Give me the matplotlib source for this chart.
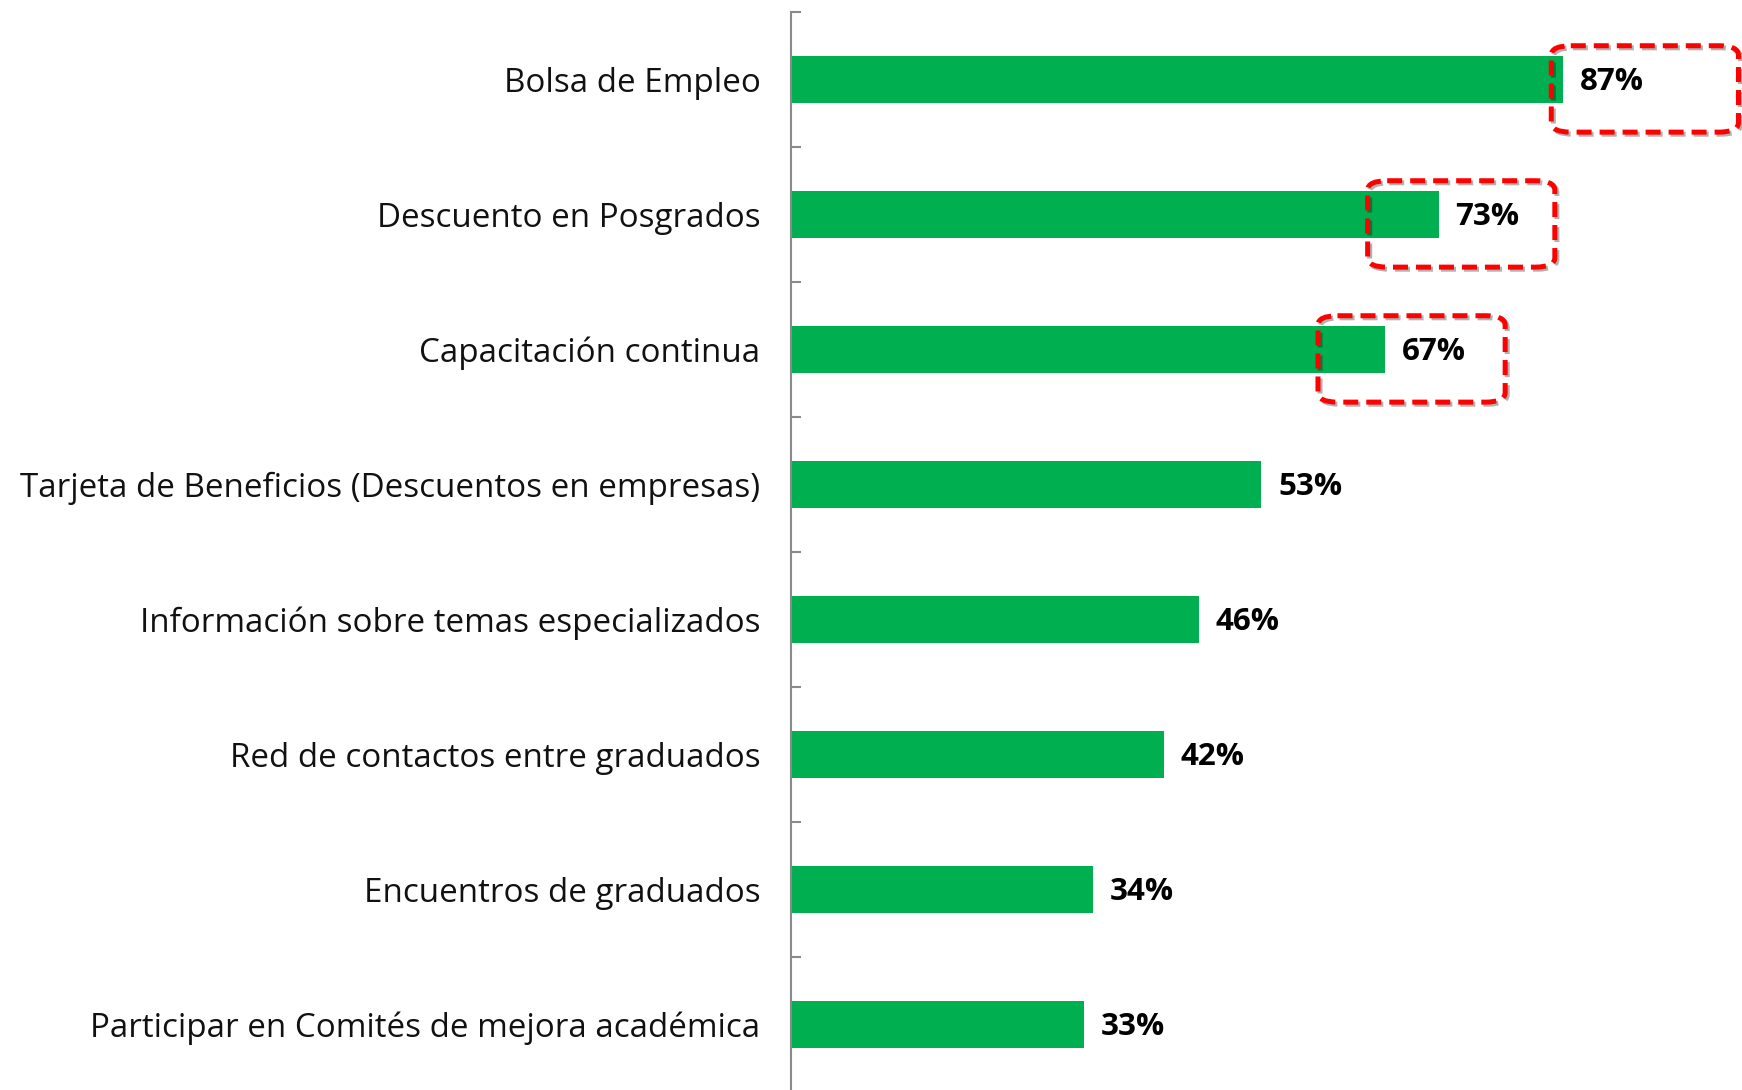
import matplotlib
matplotlib.use("Agg")
import matplotlib.pyplot as plt
from matplotlib.patches import FancyBboxPatch
import matplotlib.patheffects as pe
import numpy as np

categories = [
    "Bolsa de Empleo",
    "Descuento en Posgrados",
    "Capacitación continua",
    "Tarjeta de Beneficios (Descuentos en empresas)",
    "Información sobre temas especializados",
    "Red de contactos entre graduados",
    "Encuentros de graduados",
    "Participar en Comités de mejora académica",
]
values = [0.87, 0.73, 0.67, 0.53, 0.46, 0.42, 0.34, 0.33]
value_labels = ["87%", "73%", "67%", "53%", "46%", "42%", "34%", "33%"]

# highlighted categories (dashed red boxes) and how far each box starts left of the bar end
highlight_idx = [0, 1, 2]
box_left_offset = [0.013, 0.080, 0.076]
box_width = 0.211
box_height = 0.64
box_dy = 0.07

GREEN = "#00B050"
AXIS_GRAY = "#8A8A8A"

plt.rcParams['font.family'] = ['Open Sans', 'DejaVu Sans']

fig = plt.figure(figsize=(17.42, 10.90), dpi=100)
ax = fig.add_axes([0.4541, -0.0018, 0.5459, 0.9908])

y = np.arange(len(categories))
ax.barh(y, values, height=0.35, color=GREEN, edgecolor="none", zorder=2)

ax.set_ylim(len(categories) - 0.5, -0.5)
ax.set_xlim(0, 1.072)

for s in ["top", "right", "bottom"]:
    ax.spines[s].set_visible(False)
ax.spines["left"].set_color(AXIS_GRAY)
ax.spines["left"].set_linewidth(1.5)
ax.xaxis.set_visible(False)

ax.set_yticks(y)
ax.set_yticklabels(categories, fontsize=23.9, color="#111111")
ax.tick_params(axis="y", which="major", length=0, pad=22)
ax.set_yticks(np.arange(-0.5, len(categories) + 0.5, 1), minor=True)
ax.tick_params(axis="y", which="minor", direction="in", length=7.5,
               width=1.5, color=AXIS_GRAY)

for yi, v, lab in zip(y, values, value_labels):
    ax.text(v + 0.019, yi + 0.02, lab, va="center", ha="left",
            fontsize=22.5, fontweight="bold", color="black", zorder=3)

for i, off in zip(highlight_idx, box_left_offset):
    x0 = values[i] - off
    yc = y[i] + box_dy
    box = FancyBboxPatch((x0, yc - box_height / 2), box_width, box_height,
                         boxstyle="round,pad=0,rounding_size=0.022",
                         mutation_aspect=3.2,
                         facecolor="none", edgecolor="#FF0000",
                         linewidth=3.6, linestyle=(0, (3.0, 1.6)),
                         clip_on=False, zorder=4)
    box.set_path_effects([
        pe.SimpleLineShadow(offset=(1.5, -1.5), shadow_color="black", alpha=0.3),
        pe.Normal(),
    ])
    ax.add_patch(box)

fig.savefig("out.png", dpi=100)
